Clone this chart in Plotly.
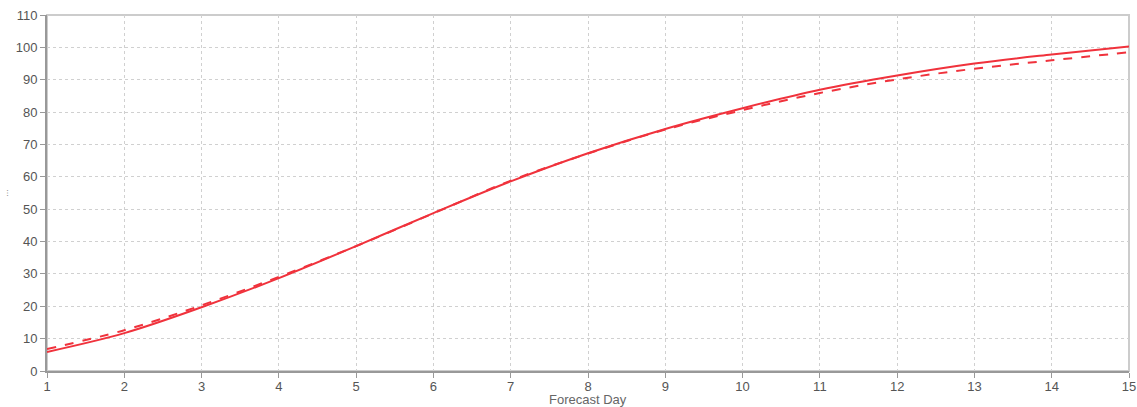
import plotly.graph_objects as go

days = list(range(1, 16))
series_solid = [5.9, 11.7, 19.7, 28.7, 38.6, 48.8, 58.6, 67.3, 74.8, 81.2, 86.9, 91.3, 95.0, 97.8, 100.3]
series_dashed = [6.8, 12.6, 20.3, 29.1, 38.6, 48.7, 58.8, 67.2, 74.6, 80.6, 85.9, 90.1, 93.4, 96.0, 98.5]
x_ticks = list(range(1, 16))
y_ticks = list(range(0, 111, 10))

RED = "#f0323c"

fig = go.Figure()
fig.add_trace(go.Scatter(x=days, y=series_dashed, mode="lines",
                         line=dict(color=RED, width=2, dash="dash", shape="spline"),
                         showlegend=False))
fig.add_trace(go.Scatter(x=days, y=series_solid, mode="lines",
                         line=dict(color=RED, width=2, shape="spline"),
                         showlegend=False))

fig.add_shape(type="rect", xref="paper", yref="paper", x0=0, x1=1, y0=0, y1=1,
              line=dict(color="#cccccc", width=2), layer="below")

fig.add_annotation(text="Forecast Day", xref="paper", yref="paper", x=0.5, y=-0.052,
                   xanchor="center", yanchor="top", showarrow=False,
                   font=dict(size=13, color="#666666"))
fig.add_annotation(text="...", xref="paper", yref="paper", x=-0.039, y=0.5,
                   xanchor="center", yanchor="middle", showarrow=False, textangle=-90,
                   font=dict(size=9, color="#888888"))

fig.update_layout(
    width=1137, height=407,
    margin=dict(l=47, r=8, t=15, b=36),
    paper_bgcolor="white", plot_bgcolor="white",
    font=dict(family="Liberation Sans, Arial, sans-serif", color="#555555", size=13),
    showlegend=False,
)
fig.update_xaxes(range=[1, 15], tickvals=x_ticks, ticks="outside", ticklen=5,
                 tickcolor="#999999", showline=True, linecolor="#999999", linewidth=2,
                 showgrid=True, gridcolor="#d0d0d0", griddash="dot", gridwidth=1,
                 zeroline=False, automargin=False, ticklabeloverflow="allow",
                 ticklabelstandoff=-3)
fig.update_yaxes(range=[0, 110], tickvals=y_ticks, ticks="outside", ticklen=5,
                 tickcolor="#999999", showline=True, linecolor="#999999", linewidth=2,
                 showgrid=True, gridcolor="#d0d0d0", griddash="dot", gridwidth=1,
                 zeroline=False, automargin=False, ticklabeloverflow="allow")

fig.write_html("out.html", config={"displayModeBar": False},
               post_script="document.body.style.margin='0';document.body.style.overflow='hidden';")
